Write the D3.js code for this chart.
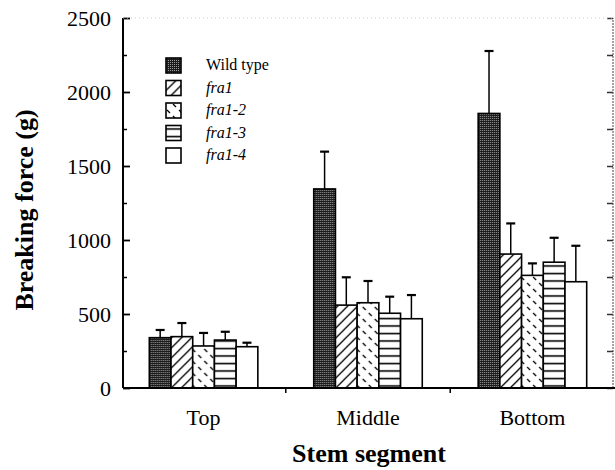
<!DOCTYPE html>
<html>
<head>
<meta charset="utf-8">
<script src="https://cdn.jsdelivr.net/npm/d3@7"></script>
<style>
  body { margin: 0; background: #fff; }
  svg { display: block; }
  svg text { font-family: "Liberation Serif", "Times New Roman", serif; }
</style>
</head>
<body>
<div id="chart"></div>
<script>
const segments = ["Top", "Middle", "Bottom"];
const genotypes = ["Wild type", "fra1", "fra1-2", "fra1-3", "fra1-4"];

// mean breaking force (g) per genotype, in segment order
const wildType = [340, 1345, 1855];
const fra1 = [347, 560, 905];
const fra1_2 = [284, 576, 761];
const fra1_3 = [324, 505, 850];
const fra1_4 = [279, 468, 718];

// upper error bar (SD)
const wildTypeErr = [52, 252, 422];
const fra1Err = [92, 188, 207];
const fra1_2Err = [88, 147, 81];
const fra1_3Err = [56, 112, 165];
const fra1_4Err = [27, 160, 243];

const yTicks = [0, 500, 1000, 1500, 2000, 2500];
const yMinorTicks = [250, 750, 1250, 1750, 2250];

const means = [wildType, fra1, fra1_2, fra1_3, fra1_4];
const errs = [wildTypeErr, fra1Err, fra1_2Err, fra1_3Err, fra1_4Err];

const data = [];
segments.forEach(function (s, i) {
  genotypes.forEach(function (g, j) {
    data.push({ segment: s, genotype: g, value: means[j][i], err: errs[j][i] });
  });
});

const width = 615,
  height = 470;
const margin = { top: 18, right: 2, bottom: 82, left: 123 };

const svg = d3
  .select("#chart")
  .append("svg")
  .attr("width", width)
  .attr("height", height);

const defs = svg.append("defs");

// stipple for wild type
let p = defs
  .append("pattern")
  .attr("id", "pat-0")
  .attr("patternUnits", "userSpaceOnUse")
  .attr("width", 2)
  .attr("height", 2);
p.append("rect").attr("width", 2).attr("height", 2).attr("fill", "#1c1c1c");
p.append("rect").attr("width", 1).attr("height", 1).attr("fill", "#9a9a9a");

// diagonal lines for fra1
p = defs
  .append("pattern")
  .attr("id", "pat-1")
  .attr("patternUnits", "userSpaceOnUse")
  .attr("width", 10)
  .attr("height", 10);
p.append("rect").attr("width", 10).attr("height", 10).attr("fill", "#fff");
p.append("path")
  .attr("d", "M-1,11L11,-1M-1,1L1,-1M9,11L11,9")
  .attr("stroke", "#000")
  .attr("stroke-width", 1.3);

// dashed back-slashes for fra1-2
p = defs
  .append("pattern")
  .attr("id", "pat-2")
  .attr("patternUnits", "userSpaceOnUse")
  .attr("width", 12)
  .attr("height", 12);
p.append("rect").attr("width", 12).attr("height", 12).attr("fill", "#fff");
p.append("path")
  .attr("d", "M1,7L4,10M7,1L10,4")
  .attr("stroke", "#000")
  .attr("stroke-width", 1.3);

// horizontal lines for fra1-3
p = defs
  .append("pattern")
  .attr("id", "pat-3")
  .attr("patternUnits", "userSpaceOnUse")
  .attr("width", 8)
  .attr("height", 7.5);
p.append("rect").attr("width", 8).attr("height", 7.5).attr("fill", "#fff");
p.append("line")
  .attr("x1", 0)
  .attr("x2", 8)
  .attr("y1", 3.5)
  .attr("y2", 3.5)
  .attr("stroke", "#000")
  .attr("stroke-width", 1.6);

const fills = ["url(#pat-0)", "url(#pat-1)", "url(#pat-2)", "url(#pat-3)", "#fff"];
const color = d3.scaleOrdinal().domain(genotypes).range(fills);

const x0 = d3
  .scaleBand()
  .domain(segments)
  .range([margin.left, width - margin.right])
  .paddingInner(0.34)
  .paddingOuter(0.16);

const x1 = d3.scaleBand().domain(genotypes).range([0, x0.bandwidth()]);

const y = d3
  .scaleLinear()
  .domain([0, 2500])
  .range([height - margin.bottom, margin.top]);

// bars
const groups = svg
  .append("g")
  .selectAll("g")
  .data(segments)
  .join("g")
  .attr("transform", function (d) {
    return "translate(" + x0(d) + ",0)";
  });

const bars = groups.selectAll("g").data(function (s) {
  return data.filter(function (d) {
    return d.segment === s;
  });
}).join("g");

bars
  .append("line")
  .attr("x1", function (d) { return x1(d.genotype) + x1.bandwidth() / 2; })
  .attr("x2", function (d) { return x1(d.genotype) + x1.bandwidth() / 2; })
  .attr("y1", function (d) { return y(d.value); })
  .attr("y2", function (d) { return y(d.value + d.err); })
  .attr("stroke", "#000")
  .attr("stroke-width", 1.5);

bars
  .append("line")
  .attr("x1", function (d) { return x1(d.genotype) + x1.bandwidth() / 2 - 4.5; })
  .attr("x2", function (d) { return x1(d.genotype) + x1.bandwidth() / 2 + 4.5; })
  .attr("y1", function (d) { return y(d.value + d.err); })
  .attr("y2", function (d) { return y(d.value + d.err); })
  .attr("stroke", "#000")
  .attr("stroke-width", 2.2);

bars
  .append("rect")
  .attr("x", function (d) { return x1(d.genotype); })
  .attr("width", x1.bandwidth())
  .attr("y", function (d) { return y(d.value); })
  .attr("height", function (d) { return y(0) - y(d.value); })
  .attr("fill", function (d) { return color(d.genotype); })
  .attr("stroke", "#000")
  .attr("stroke-width", 1.6);

// y axis
svg
  .append("g")
  .attr("class", "y-axis")
  .attr("transform", "translate(" + margin.left + ",0)")
  .call(d3.axisLeft(y).tickValues(yTicks).tickFormat(d3.format("d")).tickSize(-7).tickPadding(12))
  .call(function (g) {
    g.attr("font-family", null).attr("font-size", null);
    g.select(".domain").attr("stroke-width", 2).attr("d", "M0," + y(0) + "V" + y(2500));
    g.selectAll(".tick line").attr("stroke-width", 1.8);
    g.selectAll(".tick text").style("font-size", "22px").attr("fill", "#000");
  });

svg
  .append("g")
  .attr("transform", "translate(" + margin.left + ",0)")
  .call(d3.axisLeft(y).tickValues(yMinorTicks).tickSize(-4).tickFormat(""))
  .call(function (g) {
    g.select(".domain").remove();
    g.selectAll(".tick line").attr("stroke-width", 1.5);
  });

// right frame with inward ticks
const right = width - margin.right;
svg
  .append("line")
  .attr("x1", right)
  .attr("x2", right)
  .attr("y1", y(0))
  .attr("y2", y(2500))
  .attr("stroke", "#666")
  .attr("stroke-width", 1.2)
  .attr("stroke-dasharray", "2,1");

svg
  .append("g")
  .attr("transform", "translate(" + right + ",0)")
  .call(d3.axisRight(y).tickValues(yTicks.concat(yMinorTicks)).tickSize(-6).tickFormat(""))
  .call(function (g) {
    g.select(".domain").remove();
    g.selectAll(".tick line").attr("stroke", "#333").attr("stroke-width", 1.5);
  });

// faint top frame
svg
  .append("line")
  .attr("x1", margin.left)
  .attr("x2", right)
  .attr("y1", y(2500))
  .attr("y2", y(2500))
  .attr("stroke", "#ccc")
  .attr("stroke-width", 1)
  .attr("stroke-dasharray", "1,3");

// x axis
svg
  .append("g")
  .attr("class", "x-axis")
  .attr("transform", "translate(0," + y(0) + ")")
  .call(d3.axisBottom(x0).tickSize(0).tickPadding(21))
  .call(function (g) {
    g.attr("font-family", null).attr("font-size", null);
    g.select(".domain").attr("stroke-width", 2).attr("d", "M" + margin.left + ",0H" + width);
    g.selectAll(".tick text").style("font-size", "22px").attr("fill", "#000");
  });

// ticks between segments
const step = x0.step();
svg
  .append("g")
  .selectAll("line")
  .data(segments.slice(0, -1))
  .join("line")
  .attr("x1", function (d) { return x0(d) + x0.bandwidth() + (step - x0.bandwidth()) / 2; })
  .attr("x2", function (d) { return x0(d) + x0.bandwidth() + (step - x0.bandwidth()) / 2; })
  .attr("y1", y(0))
  .attr("y2", y(0) + 5)
  .attr("stroke", "#000")
  .attr("stroke-width", 1.5);

// axis titles
svg
  .append("text")
  .attr("x", (margin.left + width) / 2)
  .attr("y", 462)
  .attr("text-anchor", "middle")
  .attr("font-size", 26)
  .attr("font-weight", "bold")
  .text("Stem segment");

svg
  .append("text")
  .attr("transform", "translate(33,210) rotate(-90)")
  .attr("text-anchor", "middle")
  .attr("font-size", 26)
  .attr("font-weight", "bold")
  .text("Breaking force (g)");

// legend
const legend = svg
  .append("g")
  .attr("transform", "translate(166,58)")
  .selectAll("g")
  .data(genotypes)
  .join("g")
  .attr("transform", function (d, i) {
    return "translate(0," + i * 22.5 + ")";
  });

legend
  .append("rect")
  .attr("width", 15)
  .attr("height", 15)
  .attr("fill", function (d) { return color(d); })
  .attr("stroke", "#000")
  .attr("stroke-width", 1.6);

legend
  .append("text")
  .attr("x", 40)
  .attr("y", 12)
  .attr("font-size", 16)
  .attr("font-style", function (d, i) { return i === 0 ? "normal" : "italic"; })
  .text(function (d) { return d; });
</script>
</body>
</html>
